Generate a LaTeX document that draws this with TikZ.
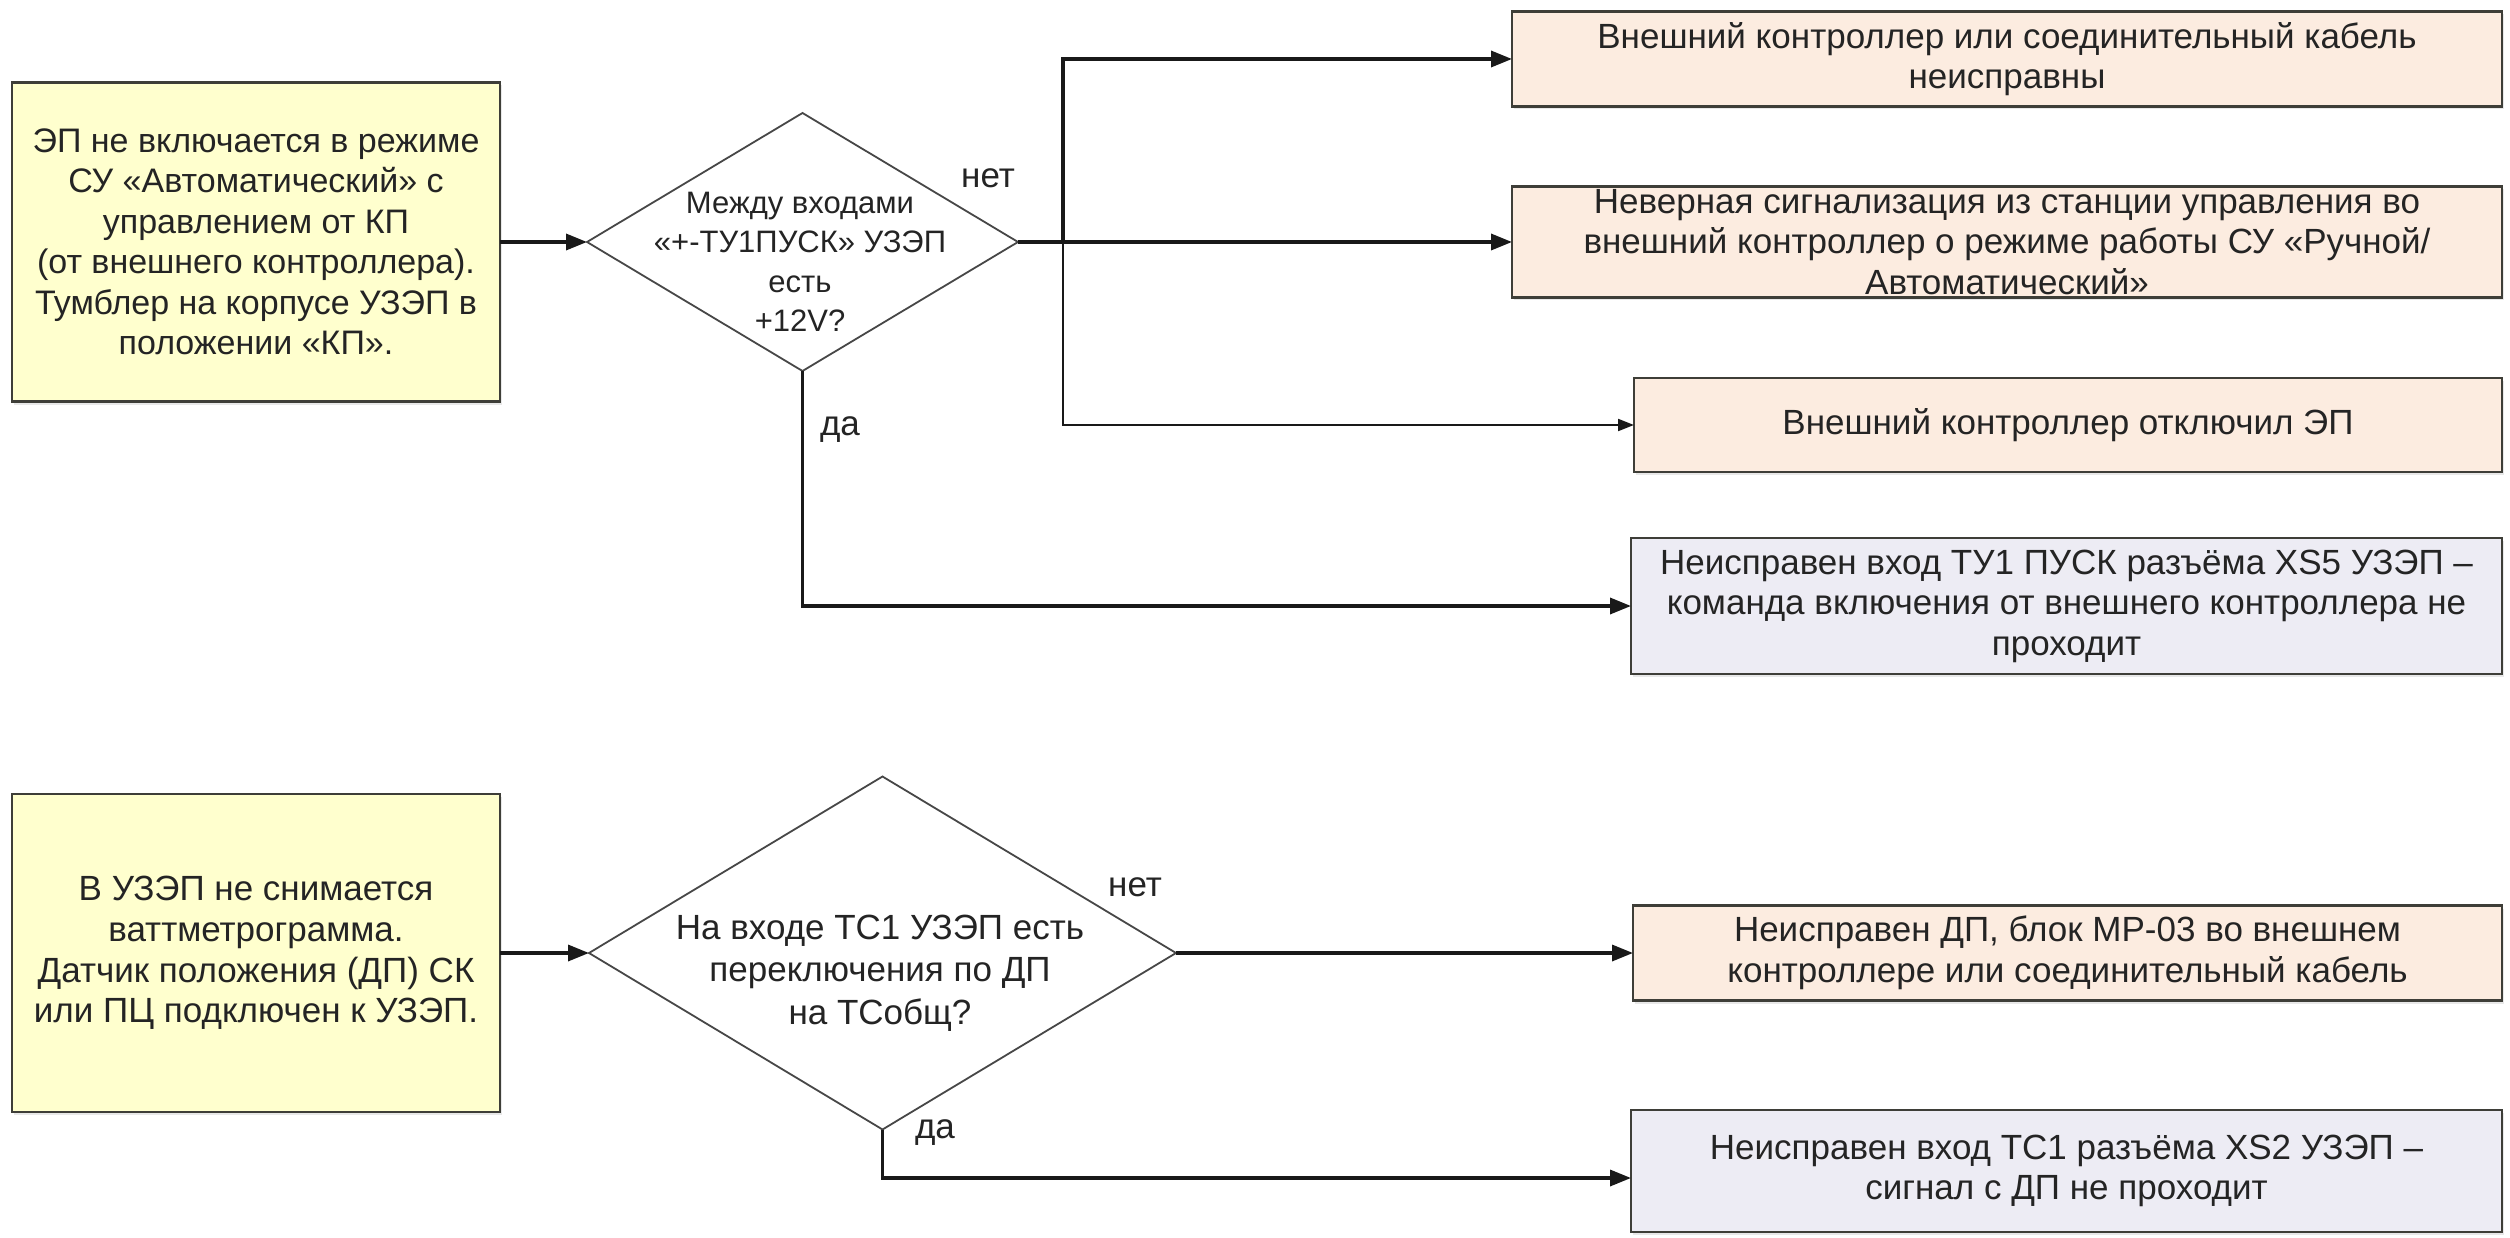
\documentclass[tikz,border=0pt]{standalone}
\usepackage{fontspec}
\setmainfont{Liberation Sans}
\usetikzlibrary{arrows.meta,shapes.geometric,shadows}
\definecolor{noteyellow}{RGB}{255,255,206}
\definecolor{causepeach}{RGB}{252,236,224}
\definecolor{causelilac}{RGB}{237,236,244}
\definecolor{inkgray}{RGB}{36,36,36}
\definecolor{edgegray}{RGB}{62,62,56}

\begin{document}
\begin{tikzpicture}[x=1pt,y=-1pt,
  every node/.style={inner sep=0pt, outer sep=0pt, text=inkgray, align=center},
  softshadow/.style={drop shadow={shadow xshift=2pt, shadow yshift=-3pt, opacity=0.18}},
  startbox/.style={rectangle, draw=edgegray, line width=2.5pt, fill=noteyellow, softshadow,
    font=\fontsize{34}{40.5}\selectfont},
  causebox/.style={rectangle, draw=edgegray, line width=2.5pt, softshadow,
    font=\fontsize{35}{40.5}\selectfont},
  peachbox/.style={causebox, fill=causepeach},
  lilacbox/.style={causebox, fill=causelilac},
  decision/.style={diamond, draw=black!72, line width=1.8pt, fill=white},
  answer/.style={font=\fontsize{35}{40}\selectfont},
  flow/.style={draw=black!90, line width=3.4pt, -{Triangle[length=21pt,width=16pt]}},
  thinflow/.style={draw=black!90, line width=2pt, -{Triangle[length=16pt,width=12pt]}}
]
% page
\fill[white] (0,0) rectangle (2510,1238);
\useasboundingbox (0,0) rectangle (2510,1238);

% ---------- first chart: start from the external controller ----------
\node[startbox, minimum width=488pt, minimum height=319pt] (b1) at (256,242)
  {ЭП не включается в режиме\\
   СУ «Автоматический» с\\
   управлением от КП\\
   (от внешнего контроллера).\\
   Тумблер на корпусе УЗЭП в\\
   положении «КП».};

\node[decision, minimum width=431pt, minimum height=258pt] (d1) at (802.5,242) {};
\node[font=\fontsize{31}{39.5}\selectfont] (d1t) at (800,262)
  {Между входами\\
   «+-ТУ1ПУСК» УЗЭП\\
   есть\\
   +12V?};

\node[peachbox, minimum width=990pt, minimum height=95pt] (b2) at (2007,59)
  {Внешний контроллер или соединительный кабель\\
   неисправны};
\node[peachbox, minimum width=990pt, minimum height=111pt] (b3) at (2007,242)
  {Неверная сигнализация из станции управления во\\
   внешний контроллер о режиме работы СУ «Ручной/\\
   Автоматический»};
\node[peachbox, minimum width=868pt, minimum height=94pt] (b4) at (2068,425)
  {Внешний контроллер отключил ЭП};
\node[lilacbox, minimum width=871pt, minimum height=136pt] (b5) at (2066.5,606)
  {Неисправен вход ТУ1 ПУСК разъёма XS5 УЗЭП –\\
   команда включения от внешнего контроллера не\\
   проходит};

\coordinate (j1) at (1063,242);

\draw[flow] (b1.east) -- (d1.west);
\draw[flow] (d1.east) -- (b3.west);
\draw[flow] (j1) |- (b2.west);
\draw[thinflow] (j1) |- (b4.west);
\draw[flow] (d1.south) |- (b5.west);

\node[answer] (no1) at (988,178) {нет};
\node[answer] (yes1) at (840,430) {да};

% ---------- second chart: position sensor ----------
\node[startbox, minimum width=488pt, minimum height=318pt,
      font=\fontsize{35}{40.7}\selectfont] (b6) at (256,953)
  {В УЗЭП не снимается\\
   ваттметрограмма.\\
   Датчик положения (ДП) СК\\
   или ПЦ подключен к УЗЭП.};

\node[decision, minimum width=587pt, minimum height=353pt] (d2) at (882.5,953) {};
\node[font=\fontsize{35}{42.5}\selectfont] (d2t) at (880,973)
  {На входе ТС1 УЗЭП есть\\
   переключения по ДП\\
   на ТСобщ?};

\node[peachbox, minimum width=869pt, minimum height=95pt] (b7) at (2067.5,953)
  {Неисправен ДП, блок МР-03 во внешнем\\
   контроллере или соединительный кабель};
\node[lilacbox, minimum width=871pt, minimum height=122pt] (b8) at (2066.5,1171)
  {Неисправен вход ТС1 разъёма XS2 УЗЭП –\\
   сигнал с ДП не проходит};

\draw[flow] (b6.east) -- (d2.west);
\draw[flow] (d2.east) -- (b7.west);
\draw[flow] (d2.south) |- ([yshift=-7pt]b8.west);

\node[answer] (no2) at (1135,887) {нет};
\node[answer] (yes2) at (935,1133) {да};
\end{tikzpicture}
\end{document}
